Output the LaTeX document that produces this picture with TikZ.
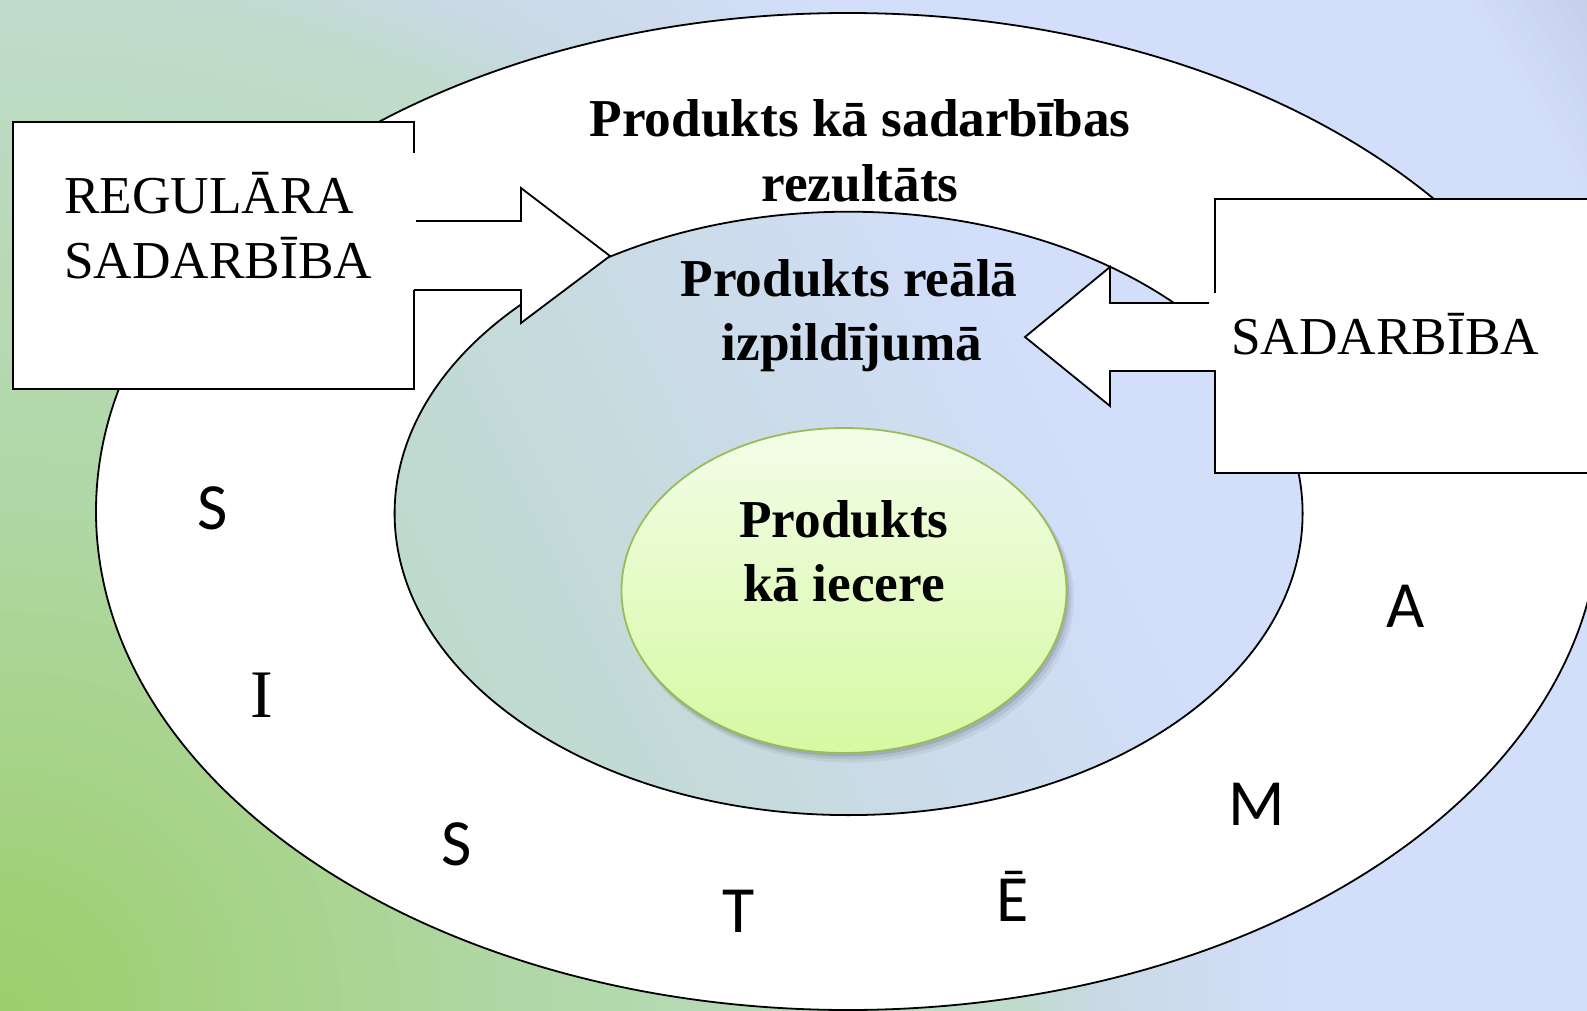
\documentclass[tikz,border=0pt]{standalone}
\usepackage{fontspec}
\setmainfont{Liberation Serif}
\newfontfamily\calibfont{Carlito}
\definecolor{bgA}{HTML}{9BCF6A}
\definecolor{bgB}{HTML}{B0D7A4}
\definecolor{bgC}{HTML}{BFDCCB}
\definecolor{bgD}{HTML}{C9D9E4}
\definecolor{bgE}{HTML}{D3DEFA}
\definecolor{bgF}{HTML}{C3CDE6}
\definecolor{inA}{HTML}{BDDACC}
\definecolor{inB}{HTML}{CADBE6}
\definecolor{inC}{HTML}{D2DEFA}
\definecolor{gTop}{HTML}{F3FDE8}
\definecolor{gBot}{HTML}{D6F9A2}
\definecolor{gBorder}{HTML}{9BBB59}
% stripes of a linear gradient: p = 0.896x - 0.443y (image coordinates)
\newcommand\bgseg[5]{%
  \foreach \bgi in {1,...,#5}{%
    \pgfmathsetmacro\bga{#1+(#2-#1)*(\bgi-1)/#5}%
    \pgfmathsetmacro\bgb{#1+(#2-#1)*\bgi/#5+1.5}%
    \pgfmathsetmacro\mixp{100*(\bgi-0.5)/#5}%
    \fill[fill={#4!\mixp!#3}] ({\bga/0.896},-5) -- ({\bgb/0.896},-5)
      -- ({(\bgb+448)/0.896},1016) -- ({(\bga+448)/0.896},1016) -- cycle;
  }}
% rings of a radial gradient centred on the lower left corner
\newcommand\ringseg[5]{%
  \foreach \bgi in {1,...,#5}{%
    \pgfmathsetmacro\bgr{#2-(#2-#1)*(\bgi-1)/#5}%
    \pgfmathsetmacro\mixp{100*(1-(\bgi-0.5)/#5)}%
    \fill[fill={#4!\mixp!#3}] (0,1011) circle [radius=\bgr];
  }}
\tikzset{
  outline/.style={draw=black, line width=1.8pt, line join=miter},
  bigbold/.style={font=\fontsize{53.3}{64}\selectfont\bfseries, anchor=base, inner sep=0pt},
  boxtext/.style={font=\fontsize{53.3}{64}\selectfont, anchor=base west, inner sep=0pt},
  letsans/.style={font=\calibfont\fontsize{66}{79}\selectfont, anchor=base, inner sep=0pt},
  letserif/.style={font=\fontsize{68}{80}\selectfont, anchor=base, inner sep=0pt},
}
\begin{document}
\begin{tikzpicture}[x=1pt,y=-1pt]
\useasboundingbox (0,0) rectangle (1587,1011);
\clip (0,0) rectangle (1587,1011);
% background (radial gradient from the lower left corner)
\ringseg{1780}{1900}{bgE}{bgF}{10}
\ringseg{1300}{1780}{bgE}{bgE}{2}
\ringseg{1100}{1300}{bgD}{bgE}{20}
\ringseg{1011}{1100}{bgC}{bgD}{9}
\ringseg{500}{1011}{bgB}{bgC}{30}
\ringseg{0}{500}{bgA}{bgB}{25}
% outer ellipse
\path[fill=white] (848,511.5) ellipse [x radius=752, y radius=498.5];
\draw[outline] (848,511.5) ellipse [x radius=752, y radius=498.5];
% inner ellipse with gradient
\begin{scope}
  \clip (848.6,513.4) ellipse [x radius=454, y radius=301.7];
  \bgseg{100}{450}{inA}{inB}{30}
  \bgseg{450}{760}{inB}{inC}{30}
  \bgseg{760}{970}{inC}{inC}{3}
\end{scope}
\draw[outline] (848.6,513.4) ellipse [x radius=454, y radius=301.7];
% green ellipse with soft shadow
\fill[black, opacity=0.10] (846,593.5) ellipse [x radius=223, y radius=163];
\fill[black, opacity=0.07] (848,596) ellipse [x radius=223.5, y radius=163.5];
\fill[black, opacity=0.05] (850,598.5) ellipse [x radius=224, y radius=164];
\shade[top color=gTop, bottom color=gBot, draw=gBorder, line width=1.8pt]
  (844,590.5) ellipse [x radius=222.5, y radius=162.5];
% left box
\fill[white] (13,122) rectangle (414,389);
\draw[outline] (414,153) -- (414,122) -- (13,122) -- (13,389) -- (414,389) -- (414,290);
% left block arrow
\fill[white] (414,221) -- (521,221) -- (521,188) -- (610,256) -- (521,323) -- (521,290) -- (414,290) -- cycle;
\draw[outline] (416,221) -- (521,221) -- (521,188) -- (610,256) -- (521,323) -- (521,290) -- (414,290);
% right box
\fill[white] (1215,199) rectangle (1600,473);
\draw[outline] (1215,293) -- (1215,199) -- (1600,199);
\draw[outline] (1215,370) -- (1215,473) -- (1600,473);
% right block arrow
\fill[white] (1215,303) -- (1110,303) -- (1110,267) -- (1025,337) -- (1110,406) -- (1110,371) -- (1215,371) -- cycle;
\draw[outline] (1209,303) -- (1110,303) -- (1110,267) -- (1025,337) -- (1110,406) -- (1110,371) -- (1215,371);
% texts
\node[bigbold] (t1a) at (860,137) {Produkts kā sadarbības};
\node[bigbold] (t1b) at (860,201) {rezultāts};
\node[bigbold] (t2a) at (849,296) {Produkts reālā};
\node[bigbold] (t2b) at (852,360) {izpildījumā};
\node[bigbold] (t3a) at (844,537) {Produkts};
\node[bigbold] (t3b) at (844,601) {kā iecere};
\node[boxtext] (l1) at (64,214) {REGULĀRA};
\node[boxtext] (l2) at (64,278) {SADARBĪBA};
\node[boxtext] (r1) at (1231,354) {SADARBĪBA};
% letters
\node[letsans] (s1) at (213,529) {S};
\node[letserif] (i1) at (261.5,717) {I};
\node[letsans] (s2) at (457,865) {S};
\node[letsans] (t1) at (739,932) {T};
\node[letsans] (e1) at (1013,921) {Ē};
\node[letsans] (m1) at (1257,825) {M};
\node[letsans] (a1) at (1406,627) {A};
\end{tikzpicture}
\end{document}
